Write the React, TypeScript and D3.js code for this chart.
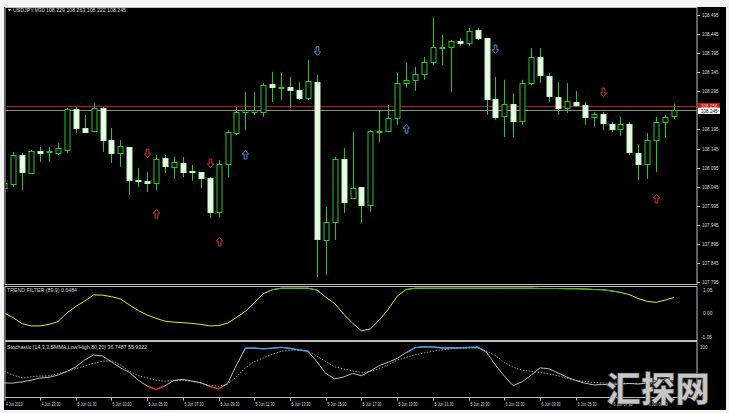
import React from 'react';
import * as d3 from 'd3';

const W = 729;
const H = 413;

// ---- OHLC (USDJPY M30) ----
const opens = [108.041,108.052,108.128,108.081,108.138,108.135,108.133,108.141,108.249,108.199,108.191,108.251,108.167,108.133,108.149,108.062,108.060,108.054,108.120,108.097,108.107,108.086,108.083,108.068,107.979,108.104,108.186,108.241,108.241,108.241,108.314,108.306,108.306,108.298,108.277,108.319,107.905,107.952,108.117,108.015,108.044,107.997,108.191,108.191,108.225,108.317,108.325,108.340,108.372,108.411,108.411,108.427,108.422,108.456,108.435,108.275,108.230,108.262,108.217,108.317,108.385,108.335,108.280,108.251,108.267,108.259,108.228,108.236,108.209,108.196,108.209,108.133,108.104,108.167,108.215,108.229];
const highs = [108.062,108.136,108.133,108.141,108.149,108.149,108.159,108.251,108.254,108.233,108.264,108.254,108.199,108.167,108.149,108.094,108.083,108.128,108.128,108.123,108.123,108.102,108.083,108.070,108.115,108.193,108.254,108.293,108.293,108.317,108.346,108.343,108.333,108.319,108.377,108.338,107.992,108.123,108.146,108.188,108.044,108.193,108.246,108.259,108.343,108.369,108.359,108.385,108.487,108.443,108.429,108.435,108.461,108.461,108.435,108.333,108.325,108.290,108.325,108.408,108.408,108.343,108.319,108.317,108.296,108.267,108.241,108.241,108.215,108.228,108.215,108.154,108.186,108.228,108.233,108.263];
const lows = [108.031,108.044,108.036,108.078,108.110,108.110,108.128,108.133,108.186,108.186,108.188,108.136,108.107,108.097,108.023,108.044,108.031,108.036,108.081,108.065,108.070,108.060,108.041,107.963,107.965,108.070,108.180,108.193,108.233,108.228,108.267,108.272,108.251,108.272,108.272,107.808,107.813,107.905,107.976,108.015,107.950,107.979,108.162,108.188,108.207,108.304,108.296,108.325,108.364,108.364,108.293,108.414,108.414,108.429,108.233,108.220,108.175,108.175,108.207,108.311,108.317,108.267,108.233,108.238,108.254,108.207,108.202,108.193,108.188,108.178,108.128,108.062,108.065,108.083,108.173,108.222];
const closes = [108.054,108.128,108.083,108.138,108.133,108.138,108.146,108.249,108.199,108.188,108.251,108.167,108.133,108.151,108.062,108.061,108.054,108.117,108.099,108.110,108.083,108.085,108.068,107.979,108.104,108.188,108.241,108.246,108.246,108.311,108.306,108.307,108.298,108.277,108.322,107.908,107.952,108.117,108.005,108.041,107.997,108.191,108.192,108.225,108.317,108.325,108.340,108.372,108.411,108.412,108.427,108.422,108.453,108.435,108.275,108.228,108.262,108.217,108.317,108.385,108.338,108.283,108.251,108.270,108.259,108.228,108.236,108.212,108.196,108.209,108.136,108.104,108.167,108.215,108.228,108.245];

// ---- Trend filter (89,9) ----
const trendFilter = [0.00,-0.19,-0.43,-0.52,-0.52,-0.46,-0.35,0.00,0.26,0.48,0.73,0.72,0.66,0.57,0.33,0.10,-0.08,-0.22,-0.33,-0.37,-0.39,-0.42,-0.46,-0.52,-0.51,-0.41,-0.18,0.07,0.41,0.78,0.94,1.0,1.0,1.0,1.0,0.93,0.64,0.38,-0.05,-0.41,-0.72,-0.64,-0.28,0.15,0.68,0.95,1.0,1.0,1.0,1.0,1.0,1.0,1.0,1.0,1.0,1.0,1.0,1.0,1.0,1.0,0.99,0.99,0.99,0.98,0.98,0.97,0.95,0.94,0.89,0.83,0.74,0.58,0.47,0.43,0.52,0.63];

// ---- Stochastic (14,3,3) ----
const stochMain = [25.8,25.8,28,31,34.7,36,40,46.5,54.6,67,76,74,63.5,53,45,31,20.5,14.3,21,30.5,32.5,29.2,26.5,19.8,15.5,25,58,88,88.3,87.1,88,89.6,87.8,85,82.8,64,43,33.2,36.6,43,39,47.5,57,63,70,80,89,90.5,90.3,88.4,88.4,88.5,89.3,90.1,81,58,38,21,28.4,40,53,51.2,44,36.5,30.3,25.8,22.5,23,23.5,24,25,24,26,29,33,36.7];
const stochSignal = [46.5,40,35,37,38.2,38.7,42.5,46.5,51.5,56.3,61,64.8,66,58,47,39,35,31,29,30,31,29,25.5,21.8,20,23.5,37,53,64,70.8,77,82.5,84.5,84.5,82.6,74,64,55,51,47.5,44.2,47,51.5,58.5,66.8,71.5,76.3,79.5,82.6,85,87,88,88.4,88.4,83,75,62.5,54,48.7,46.6,44.7,42,39,34,30.6,28.7,26.8,25.8,25.8,25.5,25,24.7,25,26,27.5,29.5];

// ---- Signal arrows ----
const redDownBars = [16, 23, 67];
const redDownPrices = [108.133, 108.107, 108.293];
const redUpBars = [17, 24, 73];
const redUpPrices = [107.973, 107.9, 108.013];
const blueUpBars = [27, 45];
const blueUpPrices = [108.128, 108.196];
const blueDownBars = [35, 55];
const blueDownPrices = [108.401, 108.406];

// ---- Axis labels ----
const priceTicks = [108.495,108.445,108.395,108.345,108.295,108.195,108.145,108.095,108.045,107.995,107.945,107.895,107.845,107.795];
const timeLabels = ['4 Jun 2019','4 Jun 23:30','5 Jun 01:30','5 Jun 03:30','5 Jun 05:30','5 Jun 07:30','5 Jun 09:30','5 Jun 11:30','5 Jun 13:30','5 Jun 15:30','5 Jun 17:30','5 Jun 19:30','5 Jun 21:30','5 Jun 23:30','6 Jun 01:30','6 Jun 03:30','6 Jun 05:30','6 Jun 07:30','6 Jun 09:30'];
const timeLabelBars = [0,4,8,12,16,20,24,28,32,36,40,44,48,52,56,60,64,68,72];
const trendTicks = [1.05, 0, -1.05];
const trendTickLabels = ['1.05', '0.00', '-1.05'];

const lastPrice = 108.245;
const redLevel = 108.256;

const FONT = '"Liberation Sans", Arial, sans-serif';
const GREEN = '#22c822';
const LABEL = '#dcdcdc';
const FRAME = '#bdbdbd';

export default function App() {
  const L = 5, R = 697;
  const mainTop = 7.5, mainBot = 284.5;
  const trTop = 286.5, trBot = 340.5;
  const stTop = 341.5, stBot = 397.5;

  const x = d3.scaleLinear().domain([0, 75]).range([4.3, 674.05]);
  const yP = d3.scaleLinear().domain([107.795, 108.495]).range([282, 15]);
  const yT = d3.scaleLinear().domain([-1.05, 1.05]).range([339, 287]);
  const yS = d3.scaleLinear().domain([0, 100]).range([397.5, 341.5]);

  const px = (i: number) => Math.round(x(i)) + 0.5;

  const trendLine = d3.line<number>().x((_, i) => x(i)).y((d) => yT(d));
  const stochLine = d3.line<number>().x((_, i) => x(i)).y((d) => yS(d));

  const arrowPath = (cx: number, cy: number, up: boolean) => {
    const s = up ? 1 : -1;
    const pts: [number, number][] = [
      [0, -4.5], [3.2, -0.8], [1.4, -0.8], [1.4, 4], [-1.4, 4], [-1.4, -0.8], [-3.2, -0.8],
    ];
    return 'M' + pts.map(([a, b]) => `${cx + a},${cy + s * b}`).join('L') + 'Z';
  };

  const arrows: { bars: number[]; prices: number[]; up: boolean; color: string }[] = [
    { bars: redDownBars, prices: redDownPrices, up: false, color: '#e03434' },
    { bars: redUpBars, prices: redUpPrices, up: true, color: '#e03434' },
    { bars: blueUpBars, prices: blueUpPrices, up: true, color: '#3f9ee6' },
    { bars: blueDownBars, prices: blueDownPrices, up: false, color: '#3f9ee6' },
  ];

  return (
    <svg width={W} height={H} style={{ position: 'absolute', left: 0, top: 0 }} fontFamily={FONT}>
      <defs>
        <clipPath id="clipMain"><rect x={L + 0.5} y={mainTop + 0.5} width={R - L - 1} height={mainBot - mainTop - 1} /></clipPath>
        <clipPath id="clipTrGreen"><rect x={L} y={trTop} width={R - L} height={yT(0.86) - trTop} /></clipPath>
        <clipPath id="clipTr"><rect x={L + 0.5} y={trTop + 0.5} width={R - L - 1} height={trBot - trTop - 1} /></clipPath>
        <clipPath id="clipStBlue"><rect x={L} y={stTop} width={R - L} height={yS(80) - stTop} /></clipPath>
        <clipPath id="clipStRed"><rect x={L} y={yS(20)} width={R - L} height={stBot - yS(20)} /></clipPath>
      </defs>
      <rect x={0} y={0} width={W} height={H} fill="#f4f4f4" />
      <rect x={4} y={7} width={722} height={403} fill="#000" />

      {/* panel frames */}
      <rect x={L} y={mainTop} width={R - L} height={mainBot - mainTop} fill="none" stroke={FRAME} strokeWidth={1} />
      <rect x={L} y={trTop} width={R - L} height={trBot - trTop} fill="none" stroke={FRAME} strokeWidth={1} />
      <rect x={L} y={stTop} width={R - L} height={stBot - stTop} fill="none" stroke={FRAME} strokeWidth={1} />

      {/* level lines */}
      <line x1={L} x2={R} y1={Math.round(yP(redLevel)) + 0.5} y2={Math.round(yP(redLevel)) + 0.5} stroke="#c01818" strokeWidth={1} />
      <line x1={L} x2={R} y1={Math.round(yP(lastPrice)) + 0.5} y2={Math.round(yP(lastPrice)) + 0.5} stroke="#8a8a8a" strokeWidth={1} />

      {/* candles */}
      <g clipPath="url(#clipMain)">
        {opens.map((o, i) => {
          const c = closes[i];
          const cx = px(i);
          const top = yP(Math.max(o, c));
          const bot = yP(Math.min(o, c));
          const bull = c > o;
          const h = Math.max(1, Math.round(bot - top));
          return (
            <g key={i}>
              <line x1={cx} x2={cx} y1={yP(highs[i])} y2={yP(lows[i])} stroke={GREEN} strokeWidth={1} />
              <rect
                x={cx - 2.5}
                y={Math.round(top) + 0.5}
                width={5}
                height={h}
                fill={bull ? '#000' : '#e8ffe8'}
                stroke={bull ? GREEN : '#bff5bf'}
                strokeWidth={1}
              />
            </g>
          );
        })}
        {arrows.map((a, k) =>
          a.bars.map((b, j) => (
            <path key={`${k}-${j}`} d={arrowPath(px(b), yP(a.prices[j]), a.up)} fill="none" stroke={a.color} strokeWidth={0.9} />
          ))
        )}
      </g>

      {/* title */}
      <path d="M8,9 L11,9 L9.5,11.5 Z" fill={LABEL} />
      <text x={13} y={12.2} fontSize={5.8} fill={LABEL} textLength={113} lengthAdjust="spacingAndGlyphs">
        USDJPY,M30  108.229 108.263 108.222 108.245
      </text>

      {/* right price axis */}
      {priceTicks.map((p, i) => (
        <g key={i}>
          <line x1={R} x2={R + 3} y1={Math.round(yP(p)) + 0.5} y2={Math.round(yP(p)) + 0.5} stroke={FRAME} />
          <text x={702} y={yP(p) + 2} fontSize={5.4} fill={LABEL} textLength={16.5} lengthAdjust="spacingAndGlyphs">
            {p.toFixed(3)}
          </text>
        </g>
      ))}
      <rect x={698} y={yP(redLevel) - 3.2} width={22} height={6.2} fill="#cc1111" />
      <text x={701} y={yP(redLevel) + 1.9} fontSize={5} fill="#ffdede" textLength={16.5} lengthAdjust="spacingAndGlyphs">
        {redLevel.toFixed(3)}
      </text>
      <rect x={698} y={yP(lastPrice) - 2.6} width={22} height={6.2} fill="#ffffff" />
      <text x={701} y={yP(lastPrice) + 2.2} fontSize={5} fill="#000" textLength={16.5} lengthAdjust="spacingAndGlyphs">
        {lastPrice.toFixed(3)}
      </text>

      {/* trend filter panel */}
      <g clipPath="url(#clipTr)">
        <path d={trendLine(trendFilter) || ''} fill="none" stroke="#e6e62a" strokeWidth={1} />
        <g clipPath="url(#clipTrGreen)">
          <path d={trendLine(trendFilter) || ''} fill="none" stroke="#2fbf2f" strokeWidth={1.2} />
        </g>
      </g>
      <text x={7} y={292.2} fontSize={5.4} fill={LABEL} textLength={70} lengthAdjust="spacingAndGlyphs">
        TREND FILTER (89,9) 0.6484
      </text>
      {trendTicks.map((t, i) => (
        <text key={i} x={i === 2 ? 701 : 703} y={i === 0 ? 291.5 : i === 1 ? 315 : 339} fontSize={5.2} fill={LABEL}
          textLength={i === 2 ? 11 : 9.5} lengthAdjust="spacingAndGlyphs">
          {trendTickLabels[i]}
        </text>
      ))}

      {/* stochastic panel */}
      <path d={stochLine(stochSignal) || ''} fill="none" stroke="#a8a8a8" strokeWidth={0.9} strokeDasharray="1.5,1.5" />
      <path d={stochLine(stochMain) || ''} fill="none" stroke="#d0d0d0" strokeWidth={0.9} />
      <g clipPath="url(#clipStBlue)">
        <path d={stochLine(stochMain) || ''} fill="none" stroke="#3a9ee8" strokeWidth={1.3} />
      </g>
      <g clipPath="url(#clipStRed)">
        <path d={stochLine(stochMain) || ''} fill="none" stroke="#e02626" strokeWidth={1.3} />
      </g>
      <text x={7} y={349.2} fontSize={5.4} fill={LABEL} textLength={140} lengthAdjust="spacingAndGlyphs">
        Stochastic (14,3,3,SMMA,Low/High,80,20) 36.7487 55.9322
      </text>
      <text x={700} y={349} fontSize={5.2} fill={LABEL} textLength={7.5} lengthAdjust="spacingAndGlyphs">100</text>

      {/* time axis */}
      {timeLabels.map((t, i) => {
        const tx = i === 0 ? 5 : px(timeLabelBars[i]);
        return (
          <g key={i}>
            <line x1={tx} x2={tx} y1={stBot} y2={stBot + 3} stroke={FRAME} />
            <text x={tx + 1} y={405.5} fontSize={5.6} fill={LABEL} textLength={i === 0 ? 16.5 : 19} lengthAdjust="spacingAndGlyphs">
              {t}
            </text>
          </g>
        );
      })}

      {/* watermark */}
      <text x={606} y={402} fontSize={35} fontWeight={900} fill="#c6c6c6" stroke="#3a3a3a" strokeWidth={0.6}
        fontFamily='"Noto Sans CJK SC", sans-serif' textLength={104} lengthAdjust="spacingAndGlyphs">
        汇探网
      </text>
    </svg>
  );
}
